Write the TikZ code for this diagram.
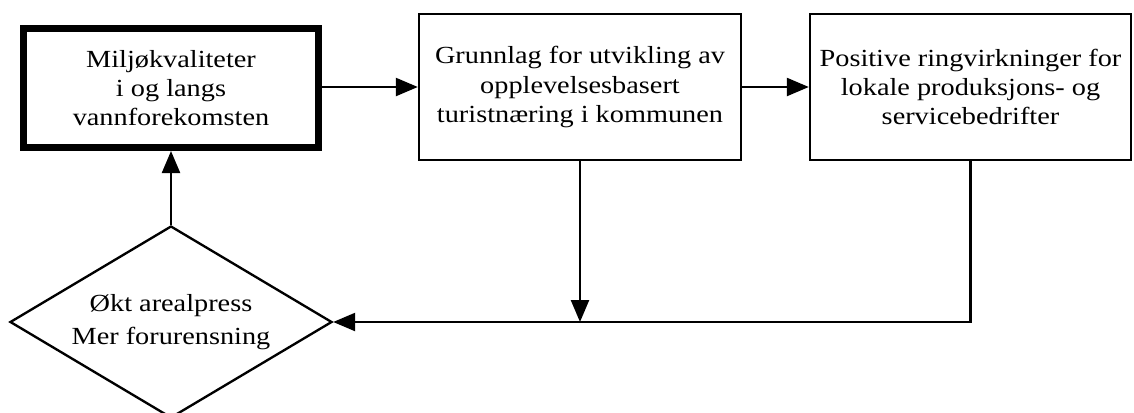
\documentclass[tikz,border=0pt]{standalone}
\usepackage{fontspec}
\setmainfont{Liberation Serif}[FakeStretch=1.15]
\usepackage{tikz}
\usetikzlibrary{arrows.meta,shapes.geometric,positioning}

\begin{document}
\begin{tikzpicture}[x=0.03cm,y=-0.03cm,line width=2pt,
  >={Triangle[length=0.66cm,width=0.54cm]},
  box/.style={draw,rectangle,inner sep=0pt,align=center,minimum height=4.38cm,
    font=\fontsize{21pt}{25pt}\selectfont},
  choice/.style={draw,diamond,aspect=1.68,inner sep=0pt,align=center,
    minimum width=9.66cm,minimum height=5.76cm,
    font=\fontsize{21pt}{28pt}\selectfont}]
\useasboundingbox (0,0) rectangle (1134,412);
\node[box,line width=6pt,minimum width=8.85cm,minimum height=3.57cm] (env) at (171,88)
  {Miljøkvaliteter\\ i og langs\\ vannforekomsten};
\node[box,minimum width=9.66cm] (grunn) at (580,87)
  {Grunnlag for utvikling av\\opplevelsesbasert\\ turistnæring i kommunen};
\node[box,minimum width=9.63cm] (ring) at (970.5,87)
  {Positive ringvirkninger for\\lokale produksjons- og\\servicebedrifter};
\node[choice] (press) at (171,322) {Økt arealpress\\Mer forurensning};
\draw[->] (env.east |- grunn.west) -- (grunn.west);
\draw[->] (grunn.east) -- (grunn.east -| ring.west);
\draw[->] (grunn.south) -- (grunn.south |- press.east);
\draw[->] (ring.south) |- (press.east);
\draw[->] (press.north) -- (env.south);
\end{tikzpicture}
\end{document}
